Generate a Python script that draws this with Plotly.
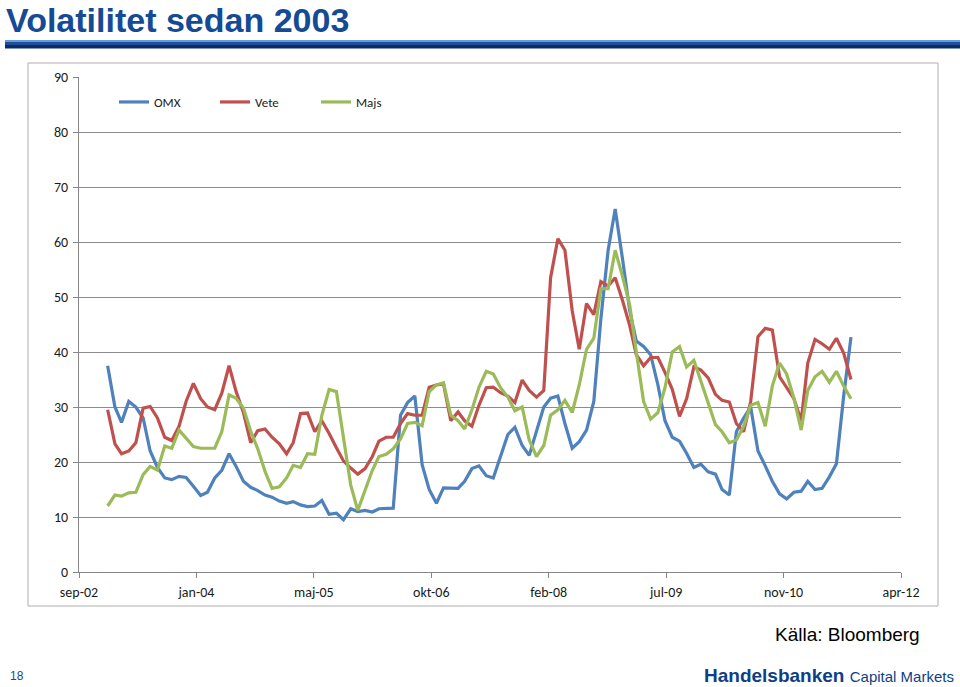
import pandas as pd
import plotly.graph_objects as go

# ---------------- data (monthly, Jan 2003 - Sep 2011) ----------------
dates = pd.date_range("2003-01-01", periods=105, freq="MS")

omx = [37.5, 30, 27.2, 31, 30, 28, 22, 19, 17.1, 16.8,
       17.4, 17.2, 15.6, 13.9, 14.5, 17.1, 18.5, 21.5, 19.2, 16.5,
       15.4, 14.8, 14, 13.6, 12.9, 12.5, 12.8, 12.2, 11.9, 12,
       13, 10.5, 10.7, 9.5, 11.5, 11, 11.2, 10.9, 11.5, 11.6,
       11.6, 28.5, 30.8, 32, 19.5, 15, 12.5, 15.3, 15.2, 15.2,
       16.5, 18.8, 19.3, 17.5, 17.1, 21, 25, 26.3, 23, 21.2,
       25.5, 30, 31.6, 32, 27, 22.5, 23.7, 25.8, 31, 46,
       58.5, 66, 57, 47.5, 42, 41, 39.5, 34, 27.5, 24.5,
       23.8, 21.6, 19, 19.6, 18.2, 17.8, 15, 14, 25.5, 28,
       30, 22, 19.3, 16.5, 14.2, 13.3, 14.5, 14.7, 16.5, 15,
       15.2, 17.3, 19.7, 32, 42.7]

vete = [29.5, 23.3, 21.5, 22, 23.5, 29.8, 30.1, 28, 24.5, 23.9,
        26.5, 31, 34.3, 31.5, 30, 29.5, 32.5, 37.5, 32.8, 29,
        23.5, 25.7, 26, 24.5, 23.3, 21.5, 23.5, 28.8, 28.9, 25.5,
        27.5, 25.2, 22.6, 20.2, 18.9, 17.8, 18.8, 21, 23.8, 24.5,
        24.5, 27, 28.8, 28.5, 28.5, 33.6, 34, 34.2, 27.5, 29.1,
        27.5, 26.5, 30.3, 33.5, 33.6, 32.6, 32, 30.8, 34.9, 33,
        31.8, 33, 53.5, 60.6, 58.5, 47.5, 40.5, 48.8, 46.8, 52.8,
        52, 53.5, 49.4, 44.8, 39.5, 37.5, 39, 39, 36.3, 33.2,
        28.3, 31.5, 37.3, 36.7, 35.3, 32.3, 31.2, 30.9, 27, 25.5,
        31, 42.8, 44.3, 44, 35.5, 33.5, 31.5, 27.5, 38, 42.3,
        41.5, 40.5, 42.5, 39.8, 35]

majs = [12, 14, 13.8, 14.4, 14.5, 17.7, 19.2, 18.5, 22.9, 22.5,
        25.8, 24.4, 22.8, 22.5, 22.5, 22.5, 25.5, 32.2, 31.6, 29.8,
        25.6, 22.4, 18.3, 15.2, 15.5, 17.1, 19.4, 19, 21.5, 21.4,
        28.5, 33.2, 32.8, 24.3, 15.8, 11.2, 15, 18.5, 21, 21.4,
        22.4, 24.2, 27, 27.2, 26.6, 32.8, 34, 34.4, 28.5, 27.5,
        26, 29.5, 33.6, 36.5, 36, 33.5, 31.8, 29.3, 30, 24,
        21, 23, 28.5, 29.5, 31.2, 29, 34, 40.5, 42.5, 51.5,
        51.5, 58.5, 53.8, 48.5, 40, 31, 27.8, 29, 33.5, 40,
        41, 37.3, 38.5, 34.8, 31, 26.8, 25.5, 23.5, 24, 26.5,
        30.3, 30.8, 26.5, 33.8, 38, 36, 31.6, 25.8, 33, 35.5,
        36.5, 34.5, 36.5, 33.8, 31.5]

series_names = ["OMX", "Vete", "Majs"]
series_colors = ["#4F81BD", "#C0504D", "#9BBB59"]

tick_dates = ["2002-09-01", "2004-01-14", "2005-05-28", "2006-10-10",
              "2008-02-22", "2009-07-06", "2010-11-18", "2012-04-01"]
tick_labels = ["sep-02", "jan-04", "maj-05", "okt-06",
               "feb-08", "jul-09", "nov-10", "apr-12"]

# ---------------- layout geometry ----------------
W, H = 960, 687
PL, PR, PT, PB = 79, 901, 77, 572


def px(x):
    return (x - PL) / (PR - PL)


def py(y):
    return (PB - y) / (PB - PT)


fig = go.Figure()
for name, vals, col in zip(series_names, [omx, vete, majs], series_colors):
    fig.add_trace(go.Scatter(x=dates, y=vals, mode="lines", name=name,
                             line=dict(color=col, width=3.2)))

tick_font = dict(family="Carlito, Lato, sans-serif", size=14, color="#1a1a1a")
legend_font = dict(family="Carlito, Lato, sans-serif", size=13, color="#1a1a1a")

fig.update_layout(
    width=W, height=H,
    margin=dict(l=PL, r=W - PR, t=PT, b=H - PB),
    paper_bgcolor="white", plot_bgcolor="white",
    showlegend=True,
    legend=dict(orientation="h", x=px(114), y=py(87), xanchor="left", yanchor="top",
                font=legend_font, entrywidth=56, bgcolor="rgba(0,0,0,0)",
                itemwidth=30),
    xaxis=dict(type="date", range=[tick_dates[0], tick_dates[-1]],
               tickvals=tick_dates, ticktext=tick_labels,
               showgrid=False, zeroline=False, showline=True,
               linecolor="#868686", linewidth=1,
               ticks="outside", ticklen=5, tickcolor="#868686",
               tickfont=tick_font, ticklabelstandoff=2),
    yaxis=dict(range=[0, 90], dtick=10, tick0=0,
               showgrid=True, gridcolor="#8C8C8C", gridwidth=1,
               zeroline=False, showline=True, linecolor="#868686", linewidth=1,
               ticks="outside", ticklen=5, tickcolor="#868686",
               tickfont=tick_font, ticklabelstandoff=2),
)

shapes = []
# outer chart frame
shapes.append(dict(type="rect", xref="paper", yref="paper",
                   x0=px(28), x1=px(938), y0=py(606), y1=py(63),
                   line=dict(color="#ADADAD", width=1), fillcolor="rgba(0,0,0,0)",
                   layer="below"))
# title bar (gradient approximated with bands)
bands = [(40, 42, "#6A9AD6"), (42, 45, "#1E4F9C"), (45, 48.5, "#0B2D63")]
for y0, y1, c in bands:
    shapes.append(dict(type="rect", xref="paper", yref="paper",
                       x0=px(5), x1=px(960), y0=py(y1), y1=py(y0),
                       line=dict(width=0), fillcolor=c))
fig.update_layout(shapes=shapes)

ann = []
ann.append(dict(text="<b>Volatilitet sedan 2003</b>", x=px(4), y=py(-1),
                xref="paper", yref="paper", xanchor="left", yanchor="top",
                showarrow=False,
                font=dict(family="Liberation Sans, Arial, sans-serif",
                          size=34, color="#154A94")))
ann.append(dict(text="Källa: Bloomberg", x=px(922), y=py(634),
                xref="paper", yref="paper", xanchor="right", yanchor="middle",
                showarrow=False,
                font=dict(family="Liberation Sans, Arial, sans-serif", size=19, color="#000000")))
ann.append(dict(text="18", x=px(8), y=py(676),
                xref="paper", yref="paper", xanchor="left", yanchor="middle",
                showarrow=False,
                font=dict(family="Liberation Sans, sans-serif", size=12,
                          color="#1F497D")))
ann.append(dict(text="<b>Handelsbanken</b> <span style='font-size:15px'>Capital Markets</span>",
                x=px(956), y=py(675),
                xref="paper", yref="paper", xanchor="right", yanchor="middle",
                showarrow=False,
                font=dict(family="Liberation Sans, Arial, sans-serif",
                          size=19, color="#0E3F86")))
fig.update_layout(annotations=ann)

fig.write_html("out.html", config={"displayModeBar": False},
               post_script="document.body.style.margin='0px';")
